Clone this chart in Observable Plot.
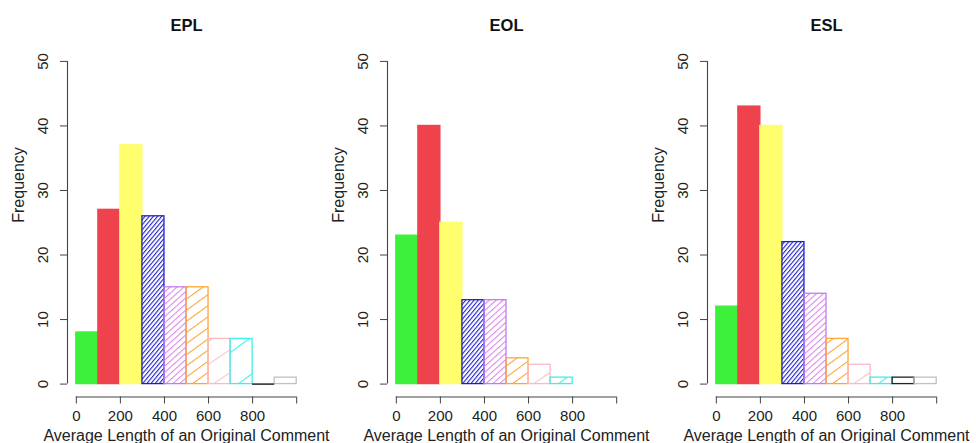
<!DOCTYPE html>
<html>
<head>
<meta charset="utf-8">
<script src="https://cdn.jsdelivr.net/npm/d3@7"></script>
<script src="https://cdn.jsdelivr.net/npm/@observablehq/plot@0.6"></script>
<style>
  html, body { margin: 0; padding: 0; background: #fff; }
  #wrap { position: relative; width: 976px; height: 443px; overflow: hidden; font-family: "Liberation Sans", Arial, sans-serif; }
  .panel { position: absolute; top: 0; }
  .panel svg { overflow: visible; }
</style>
</head>
<body>
<svg width="0" height="0" style="position:absolute">
  <defs id="defs"></defs>
</svg>
<div id="wrap"></div>
<script>
// ---- data ----
const panelTitles = ["EPL", "EOL", "ESL"];
const binStarts = [0, 100, 200, 300, 400, 500, 600, 700, 800, 900];
const binWidth = 100;
const eplCounts = [8, 27, 37, 26, 15, 15, 7, 7, 0, 1];
const eolCounts = [23, 40, 25, 13, 13, 4, 3, 1];
const eslCounts = [12, 43, 40, 22, 14, 7, 3, 1, 1, 1];
const binColors = ["#3cf03c", "#ee424c", "#ffff6e", "#2222cc", "#d98ae8", "#ffa53a", "#ffc0cb", "#3ef0f0", "#222222", "#c4c4c4"];
const binBorders = ["#3cf03c", "#ee424c", "#ffff6e", "#2020c8", "#c07ef0", "#ffa53a", "#ffb8c4", "#40eeee", "#222222", "#c0c0c0"];
// hatch: [spacing px, angle deg] or null for solid / "none" for empty
const binHatch = [null, null, null, [3.2, 50], [4.6, 42], [9, 36], [19, 34], [30, 36], "none", "none"];
const xTicks = [0, 200, 400, 600, 800, 1000];
const xTickLabels = ["0", "200", "400", "600", "800", ""];
const yTicks = [0, 10, 20, 30, 40, 50];
const xLabel = "Average Length of an Original Comment";
const yLabel = "Frequency";

// ---- hatch patterns ----
const defs = document.getElementById("defs");
const NS = "http://www.w3.org/2000/svg";
function fillFor(i) {
  const h = binHatch[i];
  if (h === null) return binColors[i];
  if (h === "none") return "none";
  const [s, a] = h;
  const p = document.createElementNS(NS, "pattern");
  p.setAttribute("id", "hatch" + i);
  p.setAttribute("patternUnits", "userSpaceOnUse");
  p.setAttribute("width", s);
  p.setAttribute("height", s);
  p.setAttribute("patternTransform", `rotate(${-a})`);
  const r = document.createElementNS(NS, "rect");
  r.setAttribute("x", 0); r.setAttribute("y", 0);
  r.setAttribute("width", s); r.setAttribute("height", 1.1);
  r.setAttribute("fill", binColors[i]);
  p.appendChild(r);
  defs.appendChild(p);
  return `url(#hatch${i})`;
}
const fills = binColors.map((c, i) => fillFor(i));

const countsList = [eplCounts, eolCounts, eslCounts];
const lefts = [0, 320, 640];
const widths = [320, 320, 336];
const xDomain = [-40, 1040];
const yDomain = [-2, 52];
const tickFont = 15;
const labelFont = 16;

const wrap = document.getElementById("wrap");
countsList.forEach((counts, k) => {
  const data = counts.map((c, i) => ({x0: binStarts[i], x1: binStarts[i] + binWidth, count: c, i}));
  const chart = Plot.plot({
    width: widths[k],
    height: 443,
    marginLeft: 67,
    marginRight: widths[k] - 305,
    marginTop: 48,
    marginBottom: 46.5,
    style: {fontFamily: "'Liberation Sans', Arial, sans-serif", fontSize: tickFont + "px", background: "transparent", overflow: "visible"},
    x: {domain: xDomain},
    y: {domain: yDomain},
    color: {type: "identity"},
    marks: [
      Plot.rect(data.filter(d => d.count > 0), {
        x1: "x0", x2: "x1", y1: 0, y2: "count",
        fill: d => fills[d.i],
        stroke: d => binBorders[d.i],
        strokeWidth: 1.3,
        inset: 0
      }),
      Plot.ruleY(data.filter(d => d.count === 0), {
        x1: "x0", x2: "x1", y: 0,
        stroke: d => binBorders[d.i],
        strokeWidth: 1.5
      }),
      Plot.ruleX([xDomain[0]], {y1: yTicks[0], y2: yTicks[yTicks.length - 1], stroke: "#444", strokeWidth: 1.1}),
      Plot.ruleY([yDomain[0]], {x1: xTicks[0], x2: xTicks[xTicks.length - 1], stroke: "#444", strokeWidth: 1.1}),
      Plot.axisY({anchor: "left", ticks: yTicks, tickSize: 7, tickFormat: () => "", label: null, stroke: "#444"}),
      Plot.text(yTicks, {x: xDomain[0], y: d => d, text: d => String(d), rotate: -90, dx: -24, fontSize: tickFont, fill: "#222"}),
      Plot.axisX({anchor: "bottom", ticks: xTicks, tickSize: 7, tickPadding: 6, tickFormat: (d, i) => xTickLabels[i], label: null, stroke: "#444", fill: "#222", fontSize: tickFont}),
      Plot.text([yLabel], {frameAnchor: "left", dx: -49, rotate: -90, fontSize: labelFont, fill: "#222"}),
      Plot.text([xLabel], {frameAnchor: "bottom", dy: 44, fontSize: labelFont, fill: "#222"}),
      Plot.text([panelTitles[k]], {frameAnchor: "top", dy: -29, fontSize: 16.5, fontWeight: "bold", fill: "#111"})
    ]
  });
  const div = document.createElement("div");
  div.className = "panel";
  div.style.left = lefts[k] + "px";
  div.appendChild(chart);
  wrap.appendChild(div);
});
</script>
</body>
</html>
